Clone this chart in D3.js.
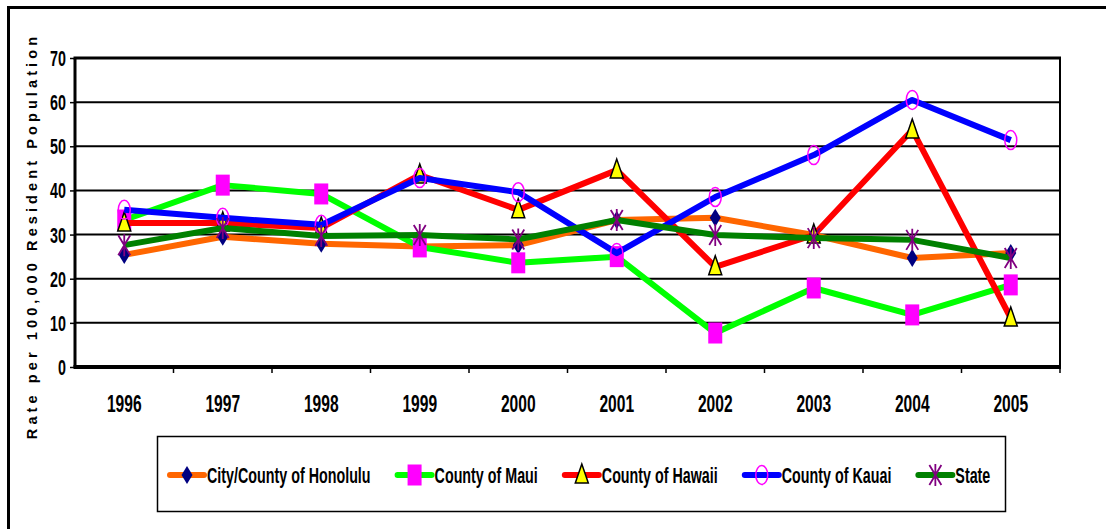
<!DOCTYPE html>
<html>
<head>
<meta charset="utf-8">
<script src="https://cdn.jsdelivr.net/npm/d3@7"></script>
<style>
  body { margin: 0; background: #fff; }
  svg { display: block; }
  .narrow { font-family: "Liberation Sans", Arial, sans-serif; font-weight: bold; }
</style>
</head>
<body>
<div id="chart"></div>
<script>
(function () {
    const years = ["1996", "1997", "1998", "1999", "2000", "2001", "2002", "2003", "2004", "2005"];
    const yTicks = [0, 10, 20, 30, 40, 50, 60, 70];

    const honolulu = [25.4, 29.5, 27.9, 27.3, 27.6, 33.3, 33.8, 29.9, 24.7, 25.8];
    const maui = [33.3, 41.2, 39.2, 27.2, 23.6, 25.0, 7.7, 17.9, 11.8, 18.6];
    const hawaii = [32.6, 32.6, 31.5, 43.5, 35.6, 44.6, 22.7, 29.9, 53.7, 11.1];
    const kauai = [35.6, 33.8, 32.2, 42.8, 39.6, 25.8, 38.5, 48.0, 60.5, 51.4];
    const state = [27.6, 31.5, 29.7, 29.9, 28.9, 33.3, 29.9, 29.2, 28.8, 24.7];

    const seriesNames = ["City/County of Honolulu", "County of Maui", "County of Hawaii", "County of Kauai", "State"];
    const seriesValues = [honolulu, maui, hawaii, kauai, state];
    const lineColors = ["#FF6600", "#00FF00", "#FF0000", "#0000FF", "#008000"];
    const markerTypes = ["diamond", "square", "triangle", "circle", "star"];

    const width = 1106, height = 529;
    const plot = { left: 75, top: 58, right: 1060, bottom: 367 };
    // the original uses a tall narrow bold face; squeeze Liberation Sans Bold to match
    const squeeze = 0.65;

    const svg = d3.select("#chart").append("svg")
        .attr("width", width)
        .attr("height", height);

    // outer frame, runs off the right / bottom of the picture
    svg.append("rect")
        .attr("x", 8.5).attr("y", 7.5)
        .attr("width", width + 20).attr("height", height + 20)
        .attr("fill", "none")
        .attr("stroke", "#000")
        .attr("stroke-width", 3);

    const x = d3.scaleBand().domain(years).range([plot.left, plot.right]);
    const y = d3.scaleLinear().domain([0, 70]).range([plot.bottom, plot.top]);

    // grid
    svg.append("g")
        .selectAll("line")
        .data(yTicks.slice(1, -1))
        .join("line")
        .attr("x1", plot.left).attr("x2", plot.right)
        .attr("y1", d => y(d)).attr("y2", d => y(d))
        .attr("stroke", "#000")
        .attr("stroke-width", 2);

    // y axis
    const yAxis = svg.append("g")
        .attr("transform", "translate(" + plot.left + ",0)")
        .call(d3.axisLeft(y).tickValues(yTicks).tickSize(5).tickFormat(""));
    yAxis.select(".domain").remove();
    yAxis.selectAll(".tick line").attr("stroke", "#000").attr("stroke-width", 1.5);
    svg.append("g")
        .selectAll("text")
        .data(yTicks)
        .join("text")
        .attr("class", "narrow")
        .attr("font-size", 22)
        .attr("text-anchor", "end")
        .attr("transform", d => "translate(66," + (y(d) + 8) + ") scale(" + squeeze + ",1)")
        .text(d => d);

    // x axis ticks at category boundaries
    svg.append("g")
        .selectAll("line")
        .data(years)
        .join("line")
        .attr("x1", d => x(d) + x.bandwidth())
        .attr("x2", d => x(d) + x.bandwidth())
        .attr("y1", plot.bottom).attr("y2", plot.bottom + 6)
        .attr("stroke", "#000").attr("stroke-width", 1.5);
    svg.append("g")
        .selectAll("text")
        .data(years)
        .join("text")
        .attr("class", "narrow")
        .attr("font-size", 24)
        .attr("text-anchor", "middle")
        .attr("transform", d => "translate(" + (x(d) + x.bandwidth() / 2) + ",412) scale(" + squeeze + ",1)")
        .text(d => d);

    // plot area border
    svg.append("line").attr("x1", plot.left - 1.5).attr("x2", plot.right + 1).attr("y1", plot.top).attr("y2", plot.top)
        .attr("stroke", "#000").attr("stroke-width", 3);
    svg.append("line").attr("x1", plot.left).attr("x2", plot.left).attr("y1", plot.top).attr("y2", plot.bottom)
        .attr("stroke", "#000").attr("stroke-width", 3);
    svg.append("line").attr("x1", plot.right).attr("x2", plot.right).attr("y1", plot.top).attr("y2", plot.bottom)
        .attr("stroke", "#000").attr("stroke-width", 2);
    svg.append("line").attr("x1", plot.left - 1.5).attr("x2", plot.right + 1).attr("y1", plot.bottom).attr("y2", plot.bottom)
        .attr("stroke", "#000").attr("stroke-width", 4);

    // markers
    const drawMarker = function (g, type, cx, cy) {
        if (type === "diamond") {
            g.append("path")
                .attr("d", `M${cx},${cy - 9} L${cx + 5.5},${cy} L${cx},${cy + 9} L${cx - 5.5},${cy} Z`)
                .attr("fill", "#000080");
        } else if (type === "square") {
            g.append("rect")
                .attr("x", cx - 7).attr("y", cy - 10.5)
                .attr("width", 14).attr("height", 21)
                .attr("fill", "#FF00FF");
        } else if (type === "triangle") {
            g.append("path")
                .attr("d", `M${cx},${cy - 11} L${cx + 6.5},${cy + 8} L${cx - 6.5},${cy + 8} Z`)
                .attr("fill", "#FFFF00")
                .attr("stroke", "#000").attr("stroke-width", 1.5);
        } else if (type === "circle") {
            g.append("ellipse")
                .attr("cx", cx).attr("cy", cy)
                .attr("rx", 6).attr("ry", 9.5)
                .attr("fill", "none")
                .attr("stroke", "#FF00FF").attr("stroke-width", 1.5);
        } else if (type === "star") {
            g.append("path")
                .attr("d", `M${cx - 6},${cy - 10} L${cx + 6},${cy + 10} M${cx + 6},${cy - 10} L${cx - 6},${cy + 10} M${cx},${cy - 11} L${cx},${cy + 11}`)
                .attr("fill", "none")
                .attr("stroke", "#800080").attr("stroke-width", 1.8);
        }
    };

    const line = d3.line()
        .x((d, i) => x(years[i]) + x.bandwidth() / 2)
        .y(d => y(d));

    const charts = svg.append("g").attr("class", "charts");
    seriesValues.forEach(function (vals, s) {
        const g = charts.append("g");
        g.append("path")
            .datum(vals)
            .attr("d", line)
            .attr("fill", "none")
            .attr("stroke", lineColors[s])
            .attr("stroke-width", 6)
            .attr("stroke-linejoin", "round");
        vals.forEach(function (v, i) {
            drawMarker(g, markerTypes[s], x(years[i]) + x.bandwidth() / 2, y(v));
        });
    });

    // y axis title
    svg.append("text")
        .attr("transform", "translate(37,236) rotate(-90)")
        .attr("text-anchor", "middle")
        .attr("font-family", "Liberation Sans, Arial, sans-serif")
        .attr("font-weight", "bold")
        .attr("font-size", 14.5)
        .attr("letter-spacing", 4.1)
        .text("Rate per 100,000 Resident Population");

    // legend
    const legend = svg.append("g");
    legend.append("rect")
        .attr("x", 157.5).attr("y", 436.5)
        .attr("width", 848).attr("height", 75)
        .attr("fill", "#fff")
        .attr("stroke", "#000").attr("stroke-width", 1.5);

    let lx = 170;
    const ly = 475;
    seriesNames.forEach(function (name, s) {
        const g = legend.append("g");
        g.append("line")
            .attr("x1", lx).attr("x2", lx + 34)
            .attr("y1", ly).attr("y2", ly)
            .attr("stroke", lineColors[s]).attr("stroke-width", 6)
            .attr("stroke-linecap", "round");
        drawMarker(g, markerTypes[s], lx + 17, ly);
        const t = g.append("text")
            .attr("class", "narrow")
            .attr("font-size", 22)
            .attr("transform", "translate(" + (lx + 37) + "," + (ly + 8) + ") scale(" + squeeze + ",1)")
            .text(name);
        lx += 37 + t.node().getComputedTextLength() * squeeze + 27;
    });
})();
</script>
</body>
</html>
